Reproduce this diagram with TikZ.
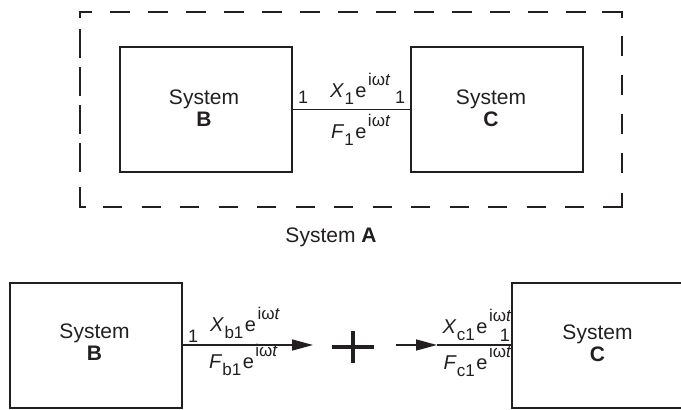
\documentclass[tikz,border=0pt]{standalone}
\usepackage{fontspec}
\setmainfont{Liberation Sans}
\usetikzlibrary{arrows.meta}
\newcommand\mysub[1]{\kern1pt\raisebox{-7pt}{\fontsize{17}{17}\selectfont #1}\kern1.5pt}
\newcommand\mysup{\kern1.5pt\raisebox{12pt}{\fontsize{17}{17}\selectfont iω\itshape t}}
\newcommand\lbl[2]{{\itshape #1}\mysub{#2}e\mysup}
\definecolor{ink}{HTML}{231F20}
\begin{document}
\begin{tikzpicture}[x=1pt,y=-1pt,
  box/.style={draw=ink, line width=2pt, minimum width=#1, minimum height=125pt, inner sep=0pt},
  box/.default=172pt,
  systxt/.style={font=\fontsize{21}{22}\selectfont, align=center, text=ink, inner sep=0pt},
  lab/.style={font=\fontsize{20}{20}\selectfont, inner sep=0pt, text=ink},
  one/.style={font=\fontsize{18}{18}\selectfont, inner sep=0pt, text=ink},
  conn/.style={draw=ink, line width=1.5pt},
  tip/.style={-{Triangle[length=21pt,width=11pt]}},
  dsh/.style={draw=ink, line width=2pt, line cap=butt, line join=miter}]
\useasboundingbox (0,0) rectangle (681,410);
\clip (0,0) rectangle (681,410);

% ---------- top: System A ----------
\draw[dsh] (92,12) -- (80,12) -- (80,18);
\foreach \k in {0,...,12} \draw[dsh] ({110+38*\k},12) -- ++(20,0);
\draw[dsh] (602,12) -- (622,12) -- (622,18);
\foreach \s in {29,67,105,143} \draw[dsh] (80,\s) -- ++(0,29);
\draw[dsh] (80,187) -- (80,207) -- (86,207);
\foreach \k in {0,...,12} \draw[dsh] ({103+38.5*\k},207) -- ++(19,0);
\draw[dsh] (603,207) -- (622,207) -- (622,193);
\foreach \s in {36,75,114,153} \draw[dsh] (622,\s) -- ++(0,20);

\node[box] (tB) at (206,109.5) {};
\node[box] (tC) at (497,109.5) {};
\node[systxt] (tBt) at (204,108.4) {System\\\textbf{B}};
\node[systxt] (tCt) at (491,108.4) {System\\\textbf{C}};
\draw[conn] (tB.east) -- (tC.west);
\node[one, anchor=base west] (t1l) at (298,103) {1};
\node[one, anchor=base west] (t1r) at (395,103) {1};
\node[lab, anchor=base west] (tX) at (330,97) {\lbl{X}{1}};
\node[lab, anchor=base west] (tF) at (331,138) {\lbl{F}{1}};
\node[systxt, anchor=base] (sysA) at (331,242) {System \textbf{A}};

% ---------- bottom ----------
\node[box] (bB) at (96,345) {};
\node[box=172pt] (bC) at (598,345) {};
\node[systxt] (bBt) at (94.5,342.4) {System\\\textbf{B}};
\node[systxt] (bCt) at (597.5,343) {System\\\textbf{C}};

\coordinate (tipL) at (313,345);
\draw[conn, tip] (bB.east) -- (tipL);
\coordinate (plus) at (353,347);
\draw[ink, line width=4.5pt] (plus) ++(-21,0) -- ++(42,0);
\draw[ink, line width=4.5pt] (plus) ++(0,-16) -- ++(0,32);
\coordinate (startR) at (396,345);
\coordinate (tipR) at (437,345);
\draw[conn, tip] (startR) -- (tipR);
\draw[conn] (tipR) -- (bC.west);

\node[one, anchor=base west] (b1l) at (188,342) {1};
\node[one, anchor=base east] (b1r) at (510,341) {1};
\node[lab, anchor=base west] (bX) at (210,331) {\lbl{X}{b1}};
\node[lab, anchor=base west] (bF) at (209,368) {\lbl{F}{b1}};
\node[lab, anchor=base east] (cX) at (511,333) {\lbl{X}{c1}};
\node[lab, anchor=base east] (cF) at (511,369) {\lbl{F}{c1}};
\end{tikzpicture}
\end{document}
